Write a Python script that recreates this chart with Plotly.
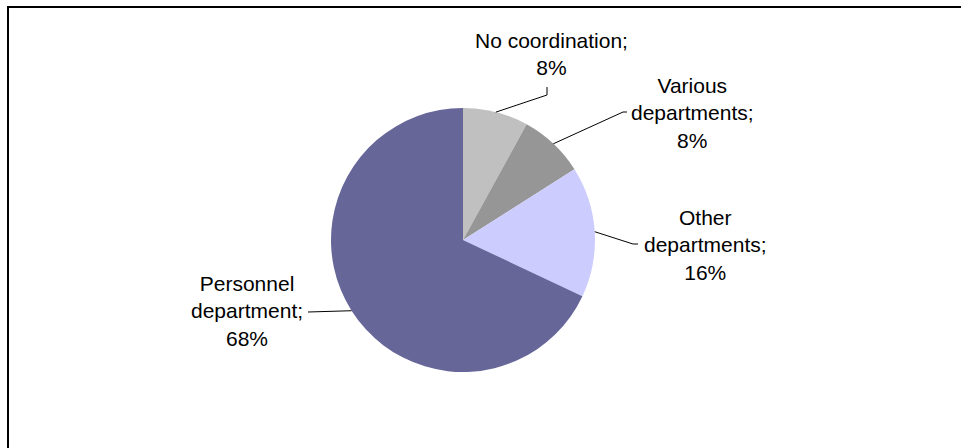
import math
import plotly.graph_objects as go

# ---- data ----
categories = ["No coordination", "Various departments", "Other departments", "Personnel department"]
shares = [8, 8, 16, 68]
label_lines = [
    ["No coordination;", "8%"],
    ["Various", "departments;", "8%"],
    ["Other", "departments;", "16%"],
    ["Personnel", "department;", "68%"],
]
colors = ["#C0C0C0", "#969696", "#CCCCFF", "#666699"]

W, H = 961, 448
CX, CY, R = 463, 240, 132  # pie centre / radius in px

def px(x):
    return x / W

def py(y):
    return 1 - y / H

fig = go.Figure(go.Pie(
    labels=categories,
    values=shares,
    sort=False,
    direction="clockwise",
    rotation=0,
    marker=dict(colors=colors, line=dict(width=0)),
    textinfo="none",
    hoverinfo="label+percent",
    showlegend=False,
    domain=dict(x=[px(CX - R), px(CX + R)], y=[py(CY + R), py(CY - R)]),
))

# label placement (elbow points and text anchors, px)
label_cfg = [
    dict(elbow=[(547, 95), (547, 87)], tx=551, ty=81, xanchor="center", yanchor="bottom"),
    dict(elbow=[(623, 112), (627, 112)], tx=629, ty=113, xanchor="left", yanchor="middle"),
    dict(elbow=[(633, 244), (638, 244)], tx=642, ty=245, xanchor="left", yanchor="middle"),
    dict(elbow=[(308, 312)], tx=305, ty=311, xanchor="right", yanchor="middle"),
]

total = sum(shares)
cum = 0
shapes = []
annotations = []
for lines, v, cfg in zip(label_lines, shares, label_cfg):
    mid = (cum + v / 2) / total * 2 * math.pi
    cum += v
    sx = CX + R * math.sin(mid)
    sy = CY - R * math.cos(mid)
    pts = [(sx, sy)] + cfg["elbow"]
    path = "M " + " L ".join(f"{px(x)},{py(y)}" for x, y in pts)
    shapes.append(dict(type="path", path=path, xref="paper", yref="paper",
                       line=dict(color="black", width=1)))
    annotations.append(dict(
        text="<br>".join(lines), x=px(cfg["tx"]), y=py(cfg["ty"]),
        xref="paper", yref="paper", xanchor=cfg["xanchor"], yanchor=cfg["yanchor"],
        align="center", showarrow=False,
        font=dict(family="Liberation Sans, Arial, sans-serif", size=21, color="black"),
    ))

# chart-area border (top/left visible, cropped at right/bottom)
shapes.append(dict(type="rect", xref="paper", yref="paper",
                   x0=px(8), y0=py(470), x1=px(990), y1=py(7),
                   line=dict(color="black", width=2)))

fig.update_layout(
    width=W, height=H,
    margin=dict(l=0, r=0, t=0, b=0),
    paper_bgcolor="white", plot_bgcolor="white",
    shapes=shapes, annotations=annotations,
)

fig.write_html(
    "out.html",
    config={"displayModeBar": False},
    post_script="document.body.style.margin='0';document.body.style.overflow='hidden';",
)
